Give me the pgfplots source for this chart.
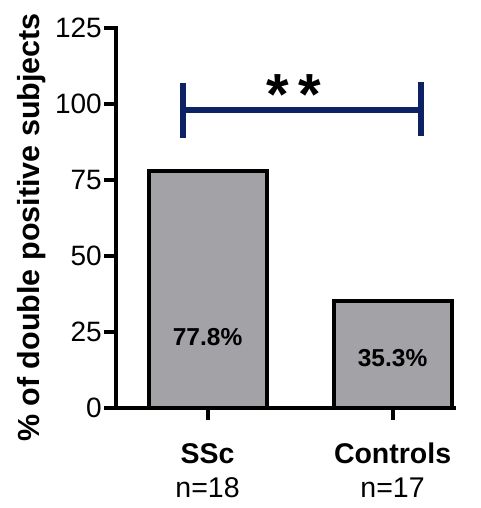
\documentclass[border=0pt]{standalone}
\usepackage{fontspec}
\setmainfont{Liberation Sans}
\usepackage{pgfplots}
\pgfplotsset{compat=1.18}
\definecolor{barfill}{RGB}{162,162,167}
\definecolor{navy}{RGB}{12,34,100}
\begin{document}
\begin{tikzpicture}
\path[use as bounding box] (-116pt,-100pt) rectangle (364pt,408pt);
\begin{axis}[
  at={(0,0)}, anchor=south west,
  scale only axis, width=338pt, height=380pt,
  xmin=-0.495, xmax=1.332, ymin=0, ymax=125,
  clip=false,
  axis lines=left,
  axis line style={line width=4pt, -, line cap=rect},
  ytick={0,25,50,75,100,125},
  xtick={0,1},
  xticklabels={{\textbf{SSc}\\n=18},{\textbf{Controls}\\n=17}},
  tick align=outside,
  major tick length=12pt,
  every tick/.style={black, line width=4pt},
  major tick style={black, line width=4pt},
  /pgf/number format/assume math mode=true,
  yticklabel style={font=\fontsize{28}{32}\selectfont, inner sep=2pt},
  xticklabel style={font=\fontsize{28.5}{34}\selectfont, align=center, inner sep=0pt, yshift=-23pt},
  ylabel={\% of double positive subjects},
  ylabel style={font=\fontsize{30.5}{36}\selectfont\bfseries, at={(axis description cs:-0.2249,0.475)}, anchor=base, inner sep=0pt},
]
\addplot[ybar, bar width=118pt, fill=barfill, draw=black, line width=4pt] coordinates {(0,77.8) (1,35.3)};
\addplot[navy, line width=5.5pt] coordinates {(-0.132,98) (1.154,98)};
\addplot[navy, line width=5.5pt] coordinates {(-0.132,106.9) (-0.132,88.8)};
\addplot[navy, line width=5.5pt] coordinates {(1.154,107.2) (1.154,89.5)};
\node[font=\fontsize{24.5}{28}\selectfont\bfseries, anchor=base] at (axis cs:0,20.7) {77.8\%};
\node[font=\fontsize{24.5}{28}\selectfont\bfseries, anchor=base] at (axis cs:1,13.5) {35.3\%};
\node[font=\fontsize{58}{62}\selectfont\bfseries, anchor=base] at (axis cs:0.465,96.5) {*\hspace{9pt}*};
\end{axis}
\end{tikzpicture}
\end{document}
